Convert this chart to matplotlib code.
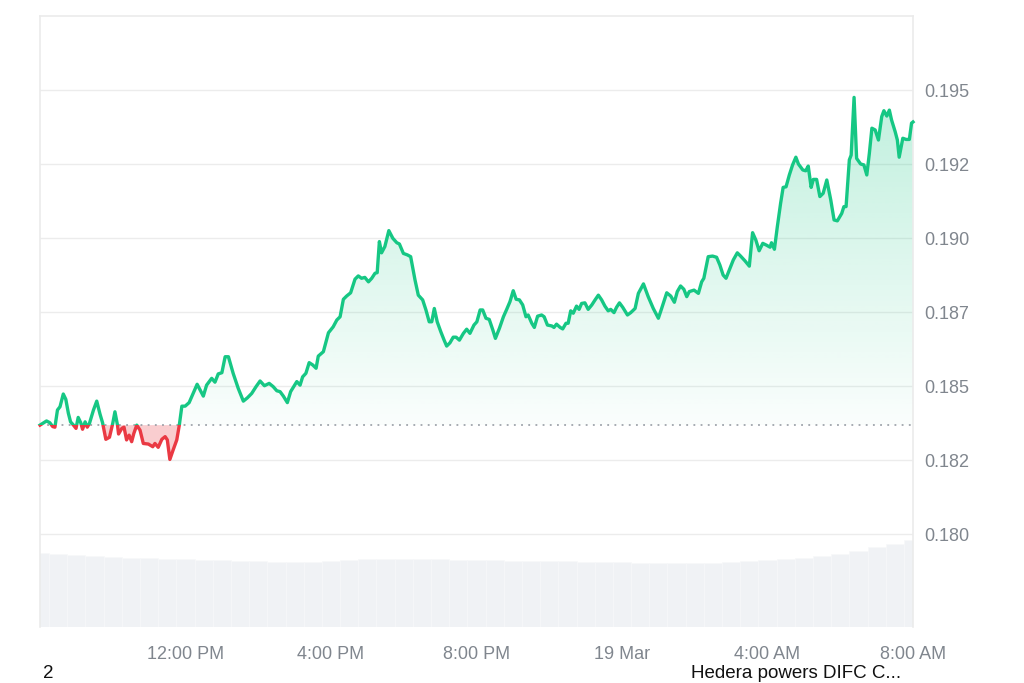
import numpy as np
import matplotlib
matplotlib.use("Agg")
import matplotlib.pyplot as plt
from matplotlib.patches import Rectangle
from matplotlib.path import Path

plt.rcParams['font.family'] = ['Liberation Sans', 'DejaVu Sans']

# hours after 08:00 on 18 Mar
hours = [
    0.00, 0.18, 0.27, 0.35, 0.41, 0.48, 0.55, 0.64, 0.71, 0.78,
    0.84, 0.92, 0.99, 1.05, 1.12, 1.17, 1.24, 1.30, 1.36, 1.47,
    1.56, 1.65, 1.72, 1.81, 1.91, 2.00, 2.06, 2.13, 2.16, 2.25,
    2.31, 2.38, 2.45, 2.52, 2.58, 2.66, 2.75, 2.84, 2.98, 3.10,
    3.16, 3.25, 3.35, 3.44, 3.50, 3.57, 3.66, 3.76, 3.83, 3.90,
    3.99, 4.10, 4.21, 4.32, 4.49, 4.58, 4.72, 4.81, 4.90, 5.00,
    5.09, 5.18, 5.31, 5.45, 5.59, 5.70, 5.82, 5.94, 6.05, 6.17,
    6.30, 6.41, 6.51, 6.60, 6.69, 6.80, 6.89, 7.06, 7.15, 7.22,
    7.31, 7.40, 7.50, 7.59, 7.65, 7.79, 7.93, 8.06, 8.16, 8.25,
    8.34, 8.43, 8.54, 8.66, 8.75, 8.84, 8.93, 9.03, 9.12, 9.21,
    9.27, 9.33, 9.39, 9.48, 9.59, 9.70, 9.81, 9.88, 9.99, 10.10,
    10.19, 10.31, 10.40, 10.52, 10.61, 10.70, 10.77, 10.84, 10.92, 11.02,
    11.11, 11.18, 11.27, 11.36, 11.44, 11.53, 11.64, 11.73, 11.82, 11.93,
    12.01, 12.10, 12.17, 12.26, 12.35, 12.45, 12.52, 12.63, 12.74, 12.83,
    12.92, 13.01, 13.09, 13.18, 13.27, 13.36, 13.42, 13.52, 13.59, 13.68,
    13.79, 13.86, 13.95, 14.07, 14.13, 14.20, 14.30, 14.37, 14.46, 14.52,
    14.59, 14.66, 14.75, 14.82, 14.89, 14.98, 15.07, 15.17, 15.26, 15.35,
    15.44, 15.53, 15.62, 15.69, 15.78, 15.85, 15.93, 16.02, 16.15, 16.24,
    16.36, 16.45, 16.59, 16.72, 16.86, 17.00, 17.09, 17.23, 17.34, 17.44,
    17.52, 17.61, 17.70, 17.78, 17.85, 17.98, 18.10, 18.19, 18.25, 18.37,
    18.49, 18.60, 18.69, 18.78, 18.86, 18.97, 19.06, 19.17, 19.26, 19.38,
    19.50, 19.59, 19.68, 19.77, 19.87, 19.97, 20.07, 20.11, 20.19, 20.27,
    20.36, 20.43, 20.51, 20.60, 20.69, 20.78, 20.85, 20.97, 21.05, 21.12,
    21.20, 21.26, 21.35, 21.44, 21.53, 21.63, 21.74, 21.83, 21.92, 22.04,
    22.10, 22.16, 22.25, 22.30, 22.38, 22.45, 22.56, 22.65, 22.73, 22.80,
    22.87, 22.96, 23.05, 23.14, 23.20, 23.28, 23.35, 23.41, 23.51, 23.57,
    23.62, 23.72, 23.81, 23.90, 23.96, 24.00,
]

price = [
    0.18368, 0.18382, 0.18376, 0.18363, 0.18361, 0.18419, 0.18430, 0.18473, 0.18455, 0.18408,
    0.18379, 0.18368, 0.18357, 0.18394, 0.18376, 0.18354, 0.18379, 0.18361, 0.18374, 0.18419,
    0.18449, 0.18405, 0.18376, 0.18320, 0.18327, 0.18374, 0.18413, 0.18368, 0.18338, 0.18357,
    0.18361, 0.18318, 0.18334, 0.18312, 0.18340, 0.18368, 0.18351, 0.18306, 0.18304, 0.18295,
    0.18306, 0.18293, 0.18320, 0.18329, 0.18318, 0.18252, 0.18284, 0.18318, 0.18368, 0.18432,
    0.18432, 0.18444, 0.18475, 0.18506, 0.18466, 0.18503, 0.18526, 0.18513, 0.18541, 0.18545,
    0.18599, 0.18599, 0.18543, 0.18492, 0.18449, 0.18460, 0.18475, 0.18498, 0.18517, 0.18501,
    0.18509, 0.18498, 0.18484, 0.18481, 0.18466, 0.18444, 0.18481, 0.18515, 0.18503, 0.18531,
    0.18543, 0.18579, 0.18571, 0.18560, 0.18601, 0.18616, 0.18680, 0.18700, 0.18723, 0.18734,
    0.18793, 0.18804, 0.18815, 0.18861, 0.18872, 0.18864, 0.18867, 0.18852, 0.18864, 0.18881,
    0.18883, 0.18988, 0.18950, 0.18971, 0.19025, 0.18999, 0.18984, 0.18980, 0.18948, 0.18943,
    0.18937, 0.18858, 0.18807, 0.18791, 0.18757, 0.18717, 0.18717, 0.18762, 0.18717, 0.18683,
    0.18655, 0.18635, 0.18646, 0.18665, 0.18665, 0.18655, 0.18678, 0.18692, 0.18678, 0.18706,
    0.18717, 0.18757, 0.18757, 0.18729, 0.18725, 0.18689, 0.18661, 0.18695, 0.18734, 0.18759,
    0.18785, 0.18822, 0.18793, 0.18791, 0.18774, 0.18734, 0.18740, 0.18712, 0.18698, 0.18736,
    0.18740, 0.18734, 0.18706, 0.18703, 0.18698, 0.18709, 0.18698, 0.18693, 0.18712, 0.18712,
    0.18754, 0.18746, 0.18770, 0.18759, 0.18779, 0.18781, 0.18759, 0.18774, 0.18791, 0.18807,
    0.18791, 0.18770, 0.18754, 0.18759, 0.18748, 0.18766, 0.18781, 0.18766, 0.18740, 0.18748,
    0.18762, 0.18813, 0.18845, 0.18802, 0.18762, 0.18729, 0.18762, 0.18815, 0.18804, 0.18783,
    0.18819, 0.18838, 0.18827, 0.18802, 0.18819, 0.18824, 0.18813, 0.18852, 0.18864, 0.18937,
    0.18939, 0.18935, 0.18909, 0.18875, 0.18864, 0.18898, 0.18926, 0.18950, 0.18939, 0.18923,
    0.18905, 0.19018, 0.18993, 0.18957, 0.18982, 0.18976, 0.18969, 0.18984, 0.18962, 0.19038,
    0.19117, 0.19171, 0.19173, 0.19213, 0.19247, 0.19273, 0.19250, 0.19230, 0.19227, 0.19243,
    0.19171, 0.19198, 0.19198, 0.19140, 0.19151, 0.19196, 0.19128, 0.19061, 0.19058, 0.19083,
    0.19106, 0.19106, 0.19264, 0.19280, 0.19475, 0.19269, 0.19250, 0.19247, 0.19213, 0.19286,
    0.19371, 0.19365, 0.19331, 0.19410, 0.19430, 0.19412, 0.19432, 0.19399, 0.19359, 0.19331,
    0.19273, 0.19337, 0.19333, 0.19333, 0.19388, 0.19392,
]

vol_hours = [i * 0.5 for i in range(49)]
volume = [148, 146, 144, 142, 141, 139, 138, 137, 136, 135,
          134, 133, 132, 131, 131, 131, 132, 134, 136, 137,
          137, 137, 136, 135, 134, 134, 133, 133, 133, 132,
          131, 130, 130, 129, 129, 129, 129, 129, 130, 132,
          134, 136, 139, 142, 146, 152, 160, 167, 174]

y_ticks = [0.180, 0.1825, 0.185, 0.1875, 0.190, 0.1925, 0.195]
y_labels = ['0.180', '0.182', '0.185', '0.187', '0.190', '0.192', '0.195']
x_ticks = [4, 8, 12, 16, 20, 24]
x_labels = ['12:00 PM', '4:00 PM', '8:00 PM', '19 Mar', '4:00 AM', '8:00 AM']

green = '#16c784'
red = '#ea3943'

h = np.array(hours)
p = np.array(price)
base = p[0]
ylo, yhi = 0.17686, 0.1975

fig = plt.figure(figsize=(10.24, 6.83), dpi=100)
ax = fig.add_axes([40 / 1024, 56 / 683, 873 / 1024, 611 / 683])
ax_vol = ax.twinx()
ax_vol.set_zorder(0)
ax.set_zorder(1)
ax.patch.set_visible(False)

# volume band
ax_vol.bar(vol_hours, volume, width=0.5, color='#f0f2f5', edgecolor='#f7f8fa',
           linewidth=0.4)
ax_vol.set_ylim(0, 1222)
ax_vol.set_yticks([])
for s in ax_vol.spines.values():
    s.set_visible(False)

ax.set_xlim(0, 24)
ax.set_ylim(ylo, yhi)

# gradient fill above the opening price
up = ax.fill_between(h, p, base, where=p >= base, interpolate=True,
                     facecolor='none', edgecolor='none')
clip = Path.make_compound_path(*up.get_paths())
grad = np.zeros((256, 1, 4))
grad[..., :3] = matplotlib.colors.to_rgb(green)
grad[:, 0, 3] = np.linspace(0.02, 0.33, 256)
im = ax.imshow(grad, extent=[0, 24, base, yhi], origin='lower', aspect='auto',
               zorder=1, interpolation='bilinear')
im.set_clip_path(clip, transform=ax.transData)

# red fill below the opening price
ax.fill_between(h, p, base, where=p < base, interpolate=True,
                facecolor=red, alpha=0.25, edgecolor='none', zorder=1)

ax.axhline(base, color='#8f959e', linestyle=(0, (1.2, 3.5)), linewidth=1.1, zorder=2)

line_up, = ax.plot(h, p, color=green, linewidth=2.4, zorder=3, solid_joinstyle='round')
line_up.set_clip_path(Rectangle((-1, base), 26, 1, transform=ax.transData))
line_dn, = ax.plot(h, p, color=red, linewidth=2.4, zorder=3, solid_joinstyle='round')
line_dn.set_clip_path(Rectangle((-1, base - 1), 26, 1, transform=ax.transData))

ax.set_xlim(0, 24)
ax.set_ylim(ylo, yhi)

ax.yaxis.tick_right()
ax.set_yticks(y_ticks)
ax.set_yticklabels(y_labels)
ax.set_xticks(x_ticks)
ax.set_xticklabels(x_labels)
ax.tick_params(axis='y', length=0, pad=8, labelsize=13, labelcolor='#80868e')
ax.tick_params(axis='x', length=0, pad=14, labelsize=13, labelcolor='#80868e')
ax.grid(axis='y', color='#ececec', linewidth=1)
ax.set_axisbelow(True)

for side in ['top', 'left', 'right']:
    ax.spines[side].set_color('#ebebeb')
    ax.spines[side].set_linewidth(1.2)
ax.spines['bottom'].set_visible(False)

fig.text(48 / 1024, 1 - 674 / 683, '2', ha='center', va='center',
         fontsize=13.5, color='#111111')
fig.text(691 / 1024, 1 - 674 / 683, 'Hedera powers DIFC C...', ha='left',
         va='center', fontsize=13.5, color='#111111')

fig.savefig('out.png', dpi=100)
